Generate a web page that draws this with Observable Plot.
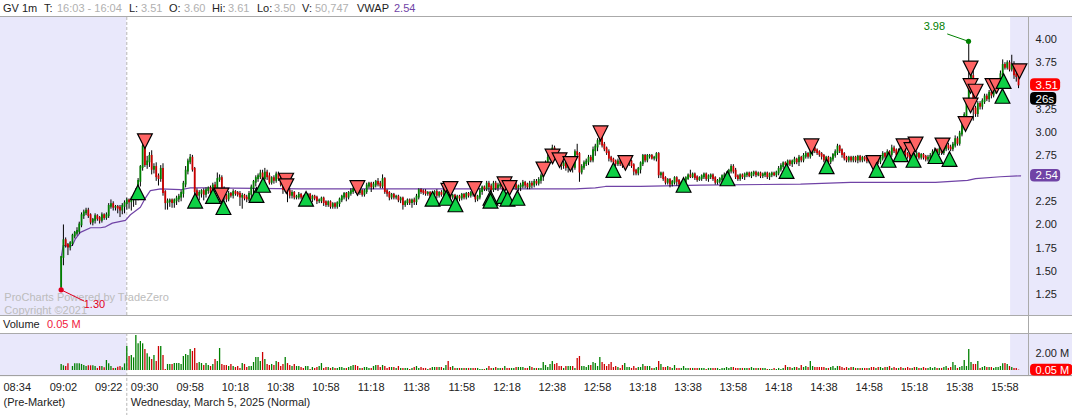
<!DOCTYPE html>
<html><head><meta charset="utf-8">
<script src="https://cdn.jsdelivr.net/npm/d3@7"></script>
<script src="https://cdn.jsdelivr.net/npm/@observablehq/plot@0.6"></script>
<style>
html,body{margin:0;padding:0;background:#fff;overflow:hidden}
body{width:1072px;height:415px;font-family:"Liberation Sans",Arial,sans-serif;font-size:11px;color:#222}
#head{position:relative;height:16px;border-bottom:1px solid #aaa}
#head span{position:absolute;top:1px;white-space:nowrap;line-height:14px}
#head .v{color:#b0b0b0}
#price{height:298px;border-bottom:1px solid #aaa}
#price svg,#volume svg{display:block}
#vol-title{position:relative;height:17px;border-bottom:1px solid #aaa}
#vol-title span{position:absolute;top:1px;line-height:14px}
#vol-title i{position:absolute;left:1028px;top:0;width:1px;height:17px;background:#aaa}
</style></head><body>
<div id="head"></div><div id="price"></div>
<div id="vol-title"><span style="left:3px">Volume</span><span style="left:47px;color:#f02040">0.05 M</span><i></i></div>
<div id="volume"></div>
<script>
// header read-out
const headerLabels=[["GV 1m",3,0],["T:",44,0],["16:03 - 16:04",57,1],["L:",129,0],["3.51",141,1],["O:",169,0],["3.60",184,1],["Hi:",212,0],["3.61",228,1],["Lo:",257,0],["3.50",274,1],["V:",302,0],["50,747",315,1],["VWAP",357,0],["2.54",394,2]];

// one-minute bars, first bar at 09:01
const firstMinute=541, firstOpen=1.33;
const closes=[
1.65,1.83,1.78,1.76,1.80,1.88,1.91,1.93,2.00,2.10,
2.13,2.15,2.10,2.03,2.05,2.09,2.07,2.05,2.10,2.08,
2.10,2.20,2.22,2.19,2.19,2.18,2.16,2.20,2.23,2.26,
2.25,2.27,2.30,2.36,2.47,2.62,2.84,2.65,2.68,2.74,
2.60,2.62,2.52,2.50,2.60,2.35,2.24,2.25,2.26,2.24,
2.26,2.28,2.30,2.34,2.44,2.58,2.68,2.72,2.60,2.36,
2.32,2.34,2.36,2.33,2.37,2.39,2.35,2.42,2.40,2.49,
2.50,2.38,2.31,2.28,2.33,2.32,2.35,2.34,2.33,2.30,
2.31,2.29,2.28,2.33,2.40,2.46,2.50,2.52,2.55,2.50,
2.56,2.52,2.46,2.50,2.48,2.54,2.50,2.44,2.38,2.42,
2.36,2.32,2.34,2.30,2.30,2.32,2.30,2.27,2.30,2.32,
2.28,2.30,2.29,2.26,2.26,2.28,2.24,2.22,2.24,2.20,
2.22,2.20,2.23,2.27,2.30,2.33,2.30,2.34,2.36,2.38,
2.37,2.35,2.36,2.33,2.36,2.42,2.44,2.41,2.43,2.46,
2.44,2.42,2.49,2.36,2.34,2.30,2.32,2.30,2.30,2.27,
2.28,2.22,2.24,2.26,2.24,2.26,2.25,2.30,2.37,2.36,
2.35,2.34,2.34,2.32,2.33,2.35,2.32,2.34,2.33,2.36,
2.40,2.34,2.30,2.31,2.28,2.30,2.29,2.32,2.30,2.33,
2.32,2.34,2.33,2.28,2.30,2.36,2.40,2.39,2.44,2.41,
2.38,2.44,2.40,2.42,2.43,2.39,2.41,2.40,2.38,2.41,
2.43,2.40,2.41,2.42,2.45,2.43,2.41,2.44,2.43,2.46,
2.45,2.48,2.52,2.60,2.66,2.72,2.76,2.82,2.78,2.74,
2.68,2.64,2.66,2.62,2.64,2.66,2.62,2.78,2.76,2.57,
2.62,2.66,2.68,2.72,2.70,2.80,2.84,2.90,2.96,2.86,
2.82,2.78,2.72,2.70,2.68,2.66,2.68,2.66,2.64,2.66,
2.66,2.68,2.64,2.58,2.56,2.60,2.66,2.74,2.70,2.74,
2.74,2.72,2.72,2.76,2.54,2.55,2.50,2.46,2.48,2.44,
2.46,2.50,2.47,2.44,2.45,2.46,2.50,2.53,2.52,2.54,
2.51,2.49,2.50,2.52,2.54,2.50,2.52,2.53,2.50,2.46,
2.47,2.49,2.52,2.53,2.54,2.58,2.62,2.58,2.52,2.50,
2.53,2.52,2.54,2.55,2.53,2.55,2.56,2.54,2.55,2.53,
2.54,2.55,2.52,2.54,2.55,2.54,2.56,2.60,2.63,2.66,
2.65,2.68,2.66,2.68,2.70,2.68,2.72,2.70,2.74,2.76,
2.74,2.78,2.82,2.80,2.78,2.76,2.74,2.70,2.72,2.68,
2.71,2.75,2.78,2.84,2.80,2.76,2.72,2.70,2.72,2.70,
2.72,2.70,2.73,2.70,2.72,2.71,2.69,2.72,2.70,2.69,
2.70,2.68,2.72,2.76,2.74,2.78,2.76,2.82,2.80,2.76,
2.79,2.77,2.80,2.76,2.74,2.72,2.75,2.74,2.76,2.73,
2.75,2.73,2.71,2.72,2.74,2.78,2.80,2.78,2.81,2.78,
2.82,2.85,2.83,2.82,2.86,2.92,2.88,2.98,3.06,3.18,
3.30,3.55,3.60,3.25,3.20,3.30,3.28,3.33,3.38,3.36,
3.42,3.40,3.44,3.48,3.55,3.62,3.72,3.70,3.74,3.68,
3.72,3.62,3.60,3.51];
// wick lengths in cents, read bar by bar
const wickUp=[
0,17,3,2,2,2,2,4,3,3, 3,3,3,2,2,3,2,2,3,2, 3,3,5,3,2,2,3,3,3,3, 2,3,4,3,3,2,3,3,6,4,
6,4,5,3,4,6,2,3,2,2, 2,3,3,3,3,5,3,4,3,2, 3,3,2,3,3,2,3,3,4,7, 4,3,3,2,3,2,3,2,2,3,
3,2,3,3,3,2,3,3,4,4, 5,3,4,2,3,3,3,3,3,2, 3,3,3,2,2,3,2,2,3,2, 2,2,2,2,2,2,2,2,2,2,
2,2,2,2,2,2,2,2,3,2, 2,2,2,2,2,3,2,2,3,2, 4,3,5,2,2,2,2,2,2,2, 2,2,2,2,2,2,3,3,2,2,
2,3,2,2,3,2,3,2,3,3, 3,3,3,2,2,2,2,2,2,2, 2,2,2,3,2,3,2,2,3,3, 3,3,3,3,3,2,3,2,2,3,
2,3,2,3,3,2,2,3,3,3, 3,3,3,4,3,4,3,4,3,3, 3,3,3,2,3,3,2,3,9,2, 3,3,3,3,3,4,3,3,4,3,
3,2,3,2,2,2,3,2,2,2, 2,2,2,2,2,2,2,2,2,2, 2,2,2,2,2,2,2,2,2,2, 2,2,2,2,2,2,2,2,6,2,
2,2,2,2,2,2,2,2,2,2, 2,2,2,3,3,2,3,3,3,2, 2,2,2,2,2,2,2,2,2,2, 2,2,2,2,2,2,2,3,3,2,
2,2,2,2,3,2,3,2,3,3, 2,3,3,2,2,2,2,2,2,2, 2,2,3,3,2,2,2,2,2,2, 2,2,2,2,2,2,2,2,2,2,
2,2,3,3,2,3,2,4,3,2, 3,2,3,2,2,2,3,2,3,2, 2,2,2,3,3,3,3,2,3,3, 3,3,3,3,3,4,3,3,5,3,
4,43,4,7,3,3,3,3,3,3, 3,3,3,3,3,4,6,3,3,3, 11,4,3,2];
const wickDown=[
3,9,3,9,4,3,3,3,3,3, 4,3,3,3,4,4,3,4,3,3, 3,3,3,4,4,6,8,5,8,7, 8,10,8,9,10,6,4,3,5,6,
6,5,5,8,4,4,8,8,6,6, 6,5,4,5,5,4,4,3,3,5, 5,6,5,7,4,4,6,4,5,3, 3,3,5,4,3,3,4,3,3,10,
13,3,4,3,6,10,5,4,3,3, 3,4,3,3,4,3,3,3,5,3, 12,4,4,3,3,3,3,4,4,4, 3,4,3,4,3,3,4,3,3,3,
3,3,3,4,3,3,5,3,3,3, 3,4,3,3,3,3,3,6,3,3, 3,3,3,3,4,4,3,3,3,3, 4,6,3,3,3,6,4,4,3,3,
3,3,3,4,3,3,4,3,3,3, 3,6,4,3,3,3,4,3,3,3, 3,3,3,4,3,3,4,3,3,6, 5,3,3,4,3,3,3,3,5,3,
3,3,4,5,3,4,3,3,4,3, 3,3,4,5,5,4,3,3,3,3, 5,5,4,4,6,3,6,3,4,11, 3,3,3,4,3,3,6,5,4,3,
3,3,4,3,3,3,3,3,3,3, 3,3,3,5,3,3,5,3,3,3, 3,2,3,4,4,4,3,3,3,4, 3,3,5,4,8,3,3,2,2,2,
3,3,2,3,3,3,4,3,3,3, 3,3,3,3,3,3,3,3,3,3, 3,3,4,3,2,3,3,3,2,3, 3,3,3,4,3,2,3,3,3,3,
3,3,3,4,3,3,5,3,3,3, 3,3,4,3,3,3,4,3,3,3, 3,3,3,3,3,4,3,3,3,3, 3,3,4,3,3,3,3,3,3,3,
3,3,3,3,3,3,3,3,3,3, 3,3,3,3,3,3,3,3,3,3, 3,3,3,3,3,3,3,3,3,3, 3,3,3,3,3,3,3,3,3,4,
4,3,4,13,4,4,4,4,3,3, 4,4,3,3,3,3,3,3,3,3, 3,5,6,4];
// volume in millions
const volumes=[
.71,.55,.47,.78,0,.47,.78,.78,.78,.71, .59,.47,.55,.55,.55,.47,.24,.47,.47,.31,
1.18,.78,.47,.24,.24,.39,.47,.31,.78,2.82, 1.65,1.76,1.49,4.12,3.14,3.41,3.14,2.47,1.96,1.57,
1.29,1.76,1.06,2.82,2.82,1.76,.12,.71,.71,.71, .82,.82,.82,.71,1.65,1.88,1.76,2.47,2.24,2.59,
.82,.94,.82,.59,.82,.59,.47,.71,1.29,1.06, 2.59,.71,.59,.59,.47,.71,.47,.35,.47,.24,
.82,.71,.35,.47,.47,.94,1.53,1.53,1.06,2.12, 1.29,.71,.59,.71,.59,1.06,.94,.47,.71,1.53,
.82,.59,.47,.71,.47,.47,.35,.24,.47,.47, .12,.35,.24,.35,.47,.82,
.24,.35,.35,.24,.35,.24,.24,.35,.35,.24, .24,.35,.47,.59,.59,.47,.24,.24,.35,.35,
.24,.24,.47,.59,.59,.35,.59,.47,.24,.35, .35,.35,.24,.47,.24,.24,.24,.24,.12,.24,
.35,.47,.24,.35,.24,.24,.12,.24,
.35,.35,.35,.35,.35,.24,.59,1.06,.35,.47, .24,.24,.24,.24,.24,.24,.24,.24,.24,.24,
.24,.12,.12,.12,.24,.47,.24,.24,.35,.24, .24,.24,.47,.24,.24,.24,.24,.35,.35,.35,
.35,.24,.24,.47,.35,.24,.24,.24,.24,.94, .59,.35,.71,1.06,.71,.82,.47,.47,.24,.47,
.47,.47,.47,.24,1.41,1.65,.47,.47,.35,.59, .59,.94,.82,.47,1.53,.94,.71,.47,.71,.94,
.35,.47,.35,.24,.59,.82,.35,.35,.24,.47, .24,.35,.35,.71,.47,.47,.47,.24,.24,.35,
1.06,.71,.35,.35,.47,.35,.24,.59,.24,.24, .24,.47,.24,.24,.24,.24,.24,.24,.24,.24,
.24,.12,.24,.24,.24,.24,.24,.12,.24,.24, .35,.24,.35,.35,.24,.24,.24,.24,.24,.24,
.24,.35,.24,.24,.24,.24,.24,.24,.12,.12, .12,.24,.12,.24,.12,.24,.59,.35,.35,.24,
.35,.35,.24,.59,.35,.47,.35,1.06,.47,.35, .35,.35,.35,.35,.24,.24,.35,.47,.24,.47,
.47,.35,.24,.35,.24,.35,.35,.24,.24,.24, .24,.24,.24,.24,.35,.35,.24,.35,.35,.24,
.35,.35,.47,.24,.35,.24,.24,.35,.24,.24, .35,.24,.24,.35,.35,.24,.24,.35,.24,.24,
.35,.24,.35,.24,.24,.24,.35,.47,.24,.35, .94,.59,.24,.35,.47,1.18,.47,2.47,.94,.71,
.71,1.06,.24,.35,.47,.35,.35,.35,.24,.35, .35,.47,.78,.82,.71,.47,.35,.24,.24,.05];

// VWAP
const vwapMinutes=[541,541.9,544,546,547.3,549.5,554,558.3,560.6,563.6,569.4,571.6,576,578.2,580.4,584.9,593.7,598.1,601.2,604.7,646.7,735.1,768.2,777,781.5,797,823.5,867.7,889.8,927.3,941.5,945,956,964.9];
const vwapPrices=[1.65,1.78,1.77,1.78,1.85,1.92,1.97,1.97,1.98,2.02,2.05,2.11,2.19,2.29,2.37,2.39,2.38,2.40,2.40,2.40,2.39,2.39,2.39,2.40,2.415,2.415,2.43,2.44,2.46,2.46,2.48,2.50,2.52,2.53];

// trade markers
const sellMinutes=[578,611.8,640.4,640.5,671.9,712.1,713,723.6,736.9,739.1,754.1,758.1,761.2,766,779.3,790.3,872.5,899.9,913.2,916.7,918.5,930.4,940.6,942.8,942.8,945,942.8,952.5,954.3,964.4];
const sellPrices=[2.825,2.24,2.40,2.34,2.32,2.29,2.31,2.31,2.36,2.32,2.52,2.66,2.62,2.58,2.91,2.59,2.77,2.59,2.77,2.73,2.79,2.78,3.01,3.61,3.42,3.36,3.21,3.42,3.42,3.58];
const buyMinutes=[574.9,600.2,608.1,612.7,627.3,630.2,649.2,705.1,711.2,715.2,730.7,730.7,736.4,738.2,742.6,785,816,835.4,861.5,879.2,901.3,906.6,911.9,917.6,927.3,933.5,956.9,957.4];
const buyPrices=[2.43,2.34,2.39,2.27,2.40,2.51,2.36,2.36,2.37,2.30,2.37,2.34,2.39,2.36,2.37,2.67,2.51,2.58,2.66,2.71,2.67,2.78,2.84,2.78,2.82,2.79,3.47,3.63];

// axes
const priceTicks=[1.25,1.5,1.75,2,2.25,2.75,3,3.25,3.75,4];
const timeMinutes=[542,562,598,618,638,658,678,698,718,738,758,778,798,818,838,858,878,898,918,938,958];
const timeLabels=["09:02","09:22","09:58","10:18","10:38","10:58","11:18","11:38","11:58","12:18","12:38","12:58","13:18","13:38","13:58","14:18","14:38","14:58","15:18","15:38","15:58"];

// sessions
const sessionStarts=[514.2,960.5];
const sessionEnds=[570,988];
const openMinute=570;
const xStart=514.2,xAxis=968.4,xEnd=988;

// badges, extremes
const badgeLabels=["3.51","26s","2.54"];
const badgePrices=[3.51,3.36,2.53];
const badgeColors=["#ff0000","#000000","#7043a6"];
const badgeEnds=[982.6,980.9,982.6];
const extremes=[
 {t:941.9,p:3.98,tl:932.5,pl:4.06,tt:926.8,pt:4.145,label:"3.98",c:"#008000"},
 {t:541,p:1.30,tl:551.1,pl:1.18,tt:555.7,pt:1.14,label:"1.30",c:"#e00020"}];

const font='"Liberation Sans",Arial,sans-serif';
const green="#008000",red="#cc0000",lav="#e9e8fb";
const head=document.getElementById("head");
headerLabels.forEach(([s,x,k])=>{const e=document.createElement("span");e.textContent=s;e.style.left=x+"px";if(k==1)e.className="v";if(k==2)e.style.color="#7043a6";head.appendChild(e)});

const bars=closes.map((c,i)=>{const o=i?closes[i-1]:firstOpen;return{t:firstMinute+i,open:o,close:c,high:Math.max(o,c)+wickUp[i]/100,low:Math.min(o,c)-wickDown[i]/100,vol:volumes[i],up:c>=o}});
const sessions=sessionStarts.map((s,i)=>({x1:s,x2:sessionEnds[i]}));
const vwap=vwapMinutes.map((t,i)=>({t,p:vwapPrices[i]}));
const sells=sellMinutes.map((t,i)=>({t,p:sellPrices[i]}));
const buys=buyMinutes.map((t,i)=>({t,p:buyPrices[i]}));
const badges=badgeLabels.map((l,i)=>({l,p:badgePrices[i],c:badgeColors[i],e:badgeEnds[i]}));
const tw=7.4,th=14.6;
const upTri={draw(c){c.moveTo(0,0);c.lineTo(tw,th);c.lineTo(-tw,th);c.closePath()}};
const downTri={draw(c){c.moveTo(0,0);c.lineTo(tw,-th);c.lineTo(-tw,-th);c.closePath()}};

const pricePlot=Plot.plot({
 width:1072,height:298,marginTop:0,marginBottom:0,marginLeft:0,marginRight:44,
 style:{fontFamily:font,fontSize:"11px",background:"#fff"},
 x:{domain:[xStart,xAxis],axis:null},
 y:{domain:[1.25,4],range:[277,22],axis:null},
 marks:[
  Plot.rect(sessions,{x1:"x1",x2:"x2",fill:lav}),
  Plot.rect([{}],{x1:xAxis,x2:xEnd,fill:lav}),
  Plot.ruleX([openMinute],{stroke:"#b5b5b5",strokeDasharray:"3,2"}),
  Plot.ruleX([xAxis],{stroke:"#aaa"}),
  Plot.text(["ProCharts Powered by TradeZero"],{x:515.9,y:1.22,text:d=>d,textAnchor:"start",fill:"#bcbcbc",fontSize:11}),
  Plot.text(["Copyright ©2021"],{x:515.9,y:1.08,text:d=>d,textAnchor:"start",fill:"#bcbcbc",fontSize:11}),
  Plot.line(vwap,{x:"t",y:"p",stroke:"#7043a6",strokeWidth:1.2}),
  Plot.ruleX(bars,{x:"t",y1:"low",y2:"high",stroke:"#000",strokeWidth:1}),
  Plot.ruleX(bars.filter(d=>d.up),{x:"t",y1:"open",y2:"close",stroke:green,strokeWidth:1.8,strokeLinecap:"square"}),
  Plot.ruleX(bars.filter(d=>!d.up),{x:"t",y1:"open",y2:"close",stroke:red,strokeWidth:1.8,strokeLinecap:"square"}),
  Plot.link(extremes,{x1:"t",y1:"p",x2:"tl",y2:"pl",stroke:"c",strokeWidth:1}),
  Plot.dot(extremes,{x:"t",y:"p",r:2.6,fill:"c"}),
  Plot.text(extremes,{x:"tt",y:"pt",text:"label",fill:"c",fontSize:11}),
  Plot.dot(sells,{x:"t",y:"p",symbol:downTri,fill:"#ff6464",stroke:"#000",strokeWidth:1.2}),
  Plot.dot(buys,{x:"t",y:"p",symbol:upTri,fill:"#0ed145",stroke:"#000",strokeWidth:1.2}),
  Plot.axisY({anchor:"right",ticks:priceTicks,tickFormat:d3.format(".2f"),tickSize:0,tickPadding:7,textAnchor:"start",fill:"#222",fontSize:11,label:null}),
  Plot.rect(badges,{x1:969.3,x2:"e",y1:d=>d.p-0.068,y2:d=>d.p+0.068,fill:"c",rx:4}),
  Plot.text(badges,{x:969.3,dx:5,y:"p",text:"l",textAnchor:"start",fill:"#fff",fontSize:11.5})
 ]});
document.getElementById("price").appendChild(pricePlot);

const axisOffset=-0.6,stemBottom=-5.4,stemTop=4.3,dateRow=-3.78,timeRow=-2.05;
const volPlot=Plot.plot({
 width:1072,height:81,marginTop:0,marginBottom:40,marginLeft:0,marginRight:44,
 style:{fontFamily:font,fontSize:"11px"},
 x:{domain:[xStart,xAxis],axis:null},
 y:{domain:[0,2],range:[36,19],axis:null},
 marks:[
  Plot.rect(sessions,{x1:"x1",x2:"x2",fill:lav}),
  Plot.rect([{}],{x1:xAxis,x2:xEnd,fill:lav}),
  Plot.ruleX([openMinute],{y1:stemBottom,y2:stemTop,stroke:"#b5b5b5",strokeDasharray:"3,2"}),
  Plot.ruleX([xAxis],{stroke:"#aaa"}),
  Plot.ruleY([axisOffset],{x1:xStart,x2:xEnd,stroke:"#999"}),
  Plot.ruleX(bars.filter(d=>d.up),{x:"t",y1:0,y2:"vol",stroke:green,strokeWidth:1.3}),
  Plot.ruleX(bars.filter(d=>!d.up),{x:"t",y1:0,y2:"vol",stroke:red,strokeWidth:1.3}),
  Plot.axisX({ticks:timeMinutes,tickFormat:d=>timeLabels[timeMinutes.indexOf(d)],tickSize:0,tickPadding:8,fill:"#222",fontSize:11,label:null}),
  Plot.text(["08:34"],{x:xStart,y:timeRow,dx:3,text:d=>d,textAnchor:"start",fill:"#222",fontSize:11}),
  Plot.text(["09:30"],{x:openMinute,y:timeRow,dx:4,text:d=>d,textAnchor:"start",fill:"#222",fontSize:11}),
  Plot.text(["(Pre-Market)"],{x:xStart,y:dateRow,dx:3,text:d=>d,textAnchor:"start",fill:"#222",fontSize:11}),
  Plot.text(["Wednesday, March 5, 2025 (Normal)"],{x:openMinute,y:dateRow,dx:4,text:d=>d,textAnchor:"start",fill:"#222",fontSize:11}),
  Plot.axisY({anchor:"right",ticks:[2],tickFormat:d=>d3.format(".2f")(d)+" M",tickSize:0,tickPadding:7,textAnchor:"start",fill:"#222",fontSize:11,label:null}),
  Plot.rect([{}],{x1:969.3,x2:xEnd,y1:-0.65,y2:0.75,fill:"#ff0000",rx:4}),
  Plot.text(["0.05 M"],{x:969.3,dx:5,y:0.05,text:d=>d,textAnchor:"start",fill:"#fff",fontSize:11})
 ]});
document.getElementById("volume").appendChild(volPlot);
</script></body></html>
